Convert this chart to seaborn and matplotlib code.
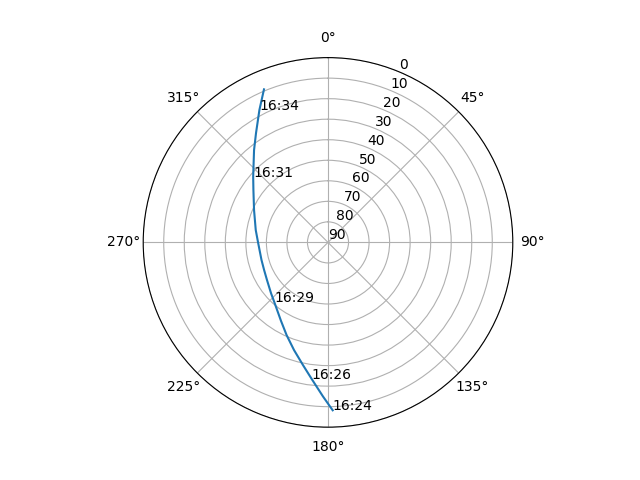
import numpy as np
import pandas as pd
import matplotlib
matplotlib.use("Agg")
import matplotlib.pyplot as plt
import seaborn as sns

# Satellite pass track (azimuth deg, elevation deg)
azimuth = [178.4, 181.9, 186.8, 191.5, 197.5, 204.0, 211.0, 222.0,
           228.2, 238.4, 246.6, 255.2, 269.4, 279.7, 293.6, 305.1, 311.3,
           314.1, 321.3, 326.6, 332.6, 337.3]
elevation = [8.2, 15.0, 23.0, 29.0, 35.0, 40.5, 45.5, 50.9,
             52.8, 55.1, 56.1, 56.5, 56.0, 54.3, 50.7, 45.6, 41.5,
             39.4, 32.4, 26.3, 17.4, 9.2]

# Time labels and the track point index they sit at
time_labels = ["16:24", "16:26", "16:29", "16:31", "16:34"]
time_index = [0, 2, 7, 16, 20]

radial_ticks = [0, 10, 20, 30, 40, 50, 60, 70, 80, 90]

df = pd.DataFrame({"theta": np.deg2rad(azimuth), "el": elevation})

fig = plt.figure(figsize=(6.4, 4.8), dpi=100)
ax = fig.add_subplot(111, projection="polar")
ax.set_theta_zero_location("N")
ax.set_theta_direction(-1)

sns.lineplot(data=df, x="theta", y="el", sort=False, ax=ax, color="#1f77b4",
             linewidth=1.5)

for lab, i in zip(time_labels, time_index):
    ax.text(np.deg2rad(azimuth[i]), elevation[i], lab, fontsize=10)

ax.set_rlim(90, 0)
ax.set_rticks(radial_ticks)
ax.set_xlabel("")
ax.set_ylabel("")
ax.grid(True)

fig.savefig("out.png", dpi=100)
